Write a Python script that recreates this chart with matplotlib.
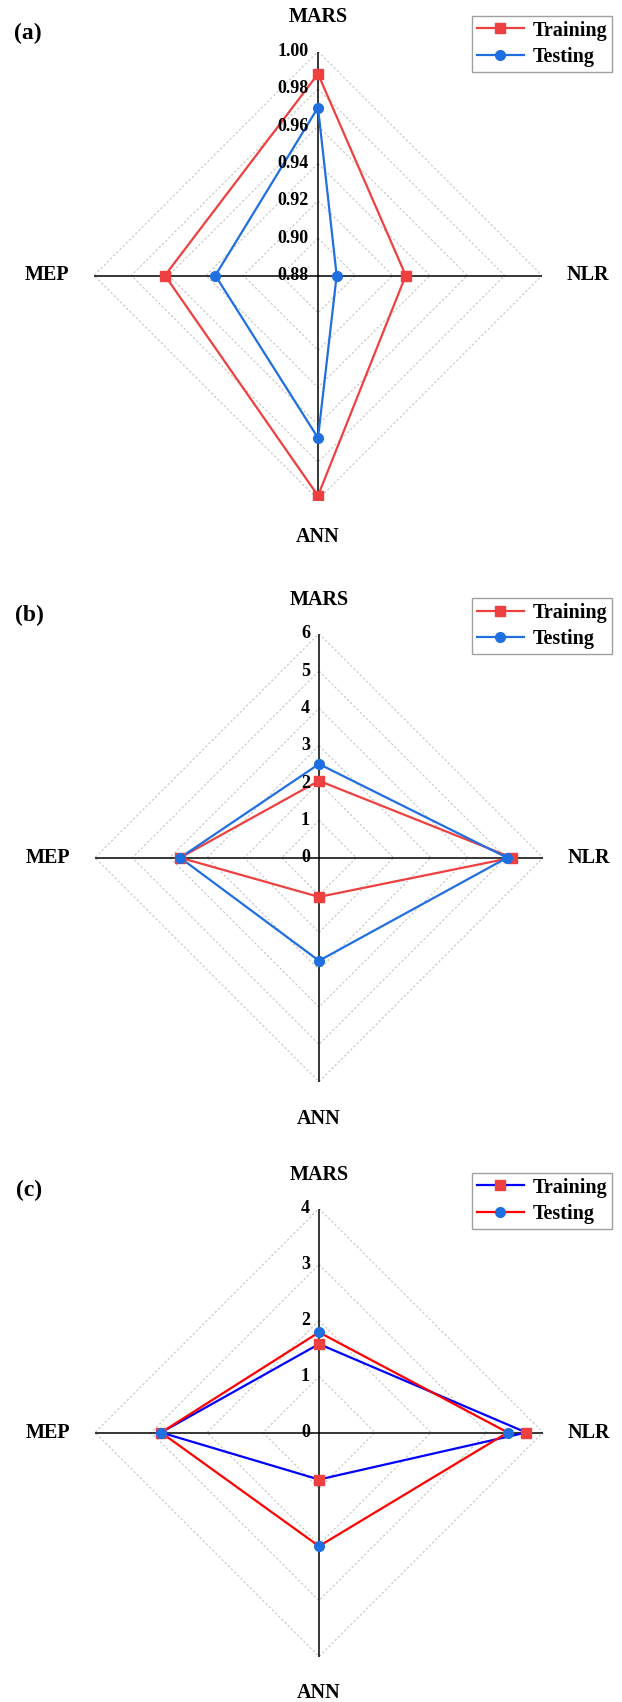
import numpy as np
import matplotlib
matplotlib.use('Agg')
import matplotlib.pyplot as plt
from matplotlib.lines import Line2D

plt.rcParams['font.family'] = ['Liberation Serif', 'DejaVu Serif']
plt.rcParams['font.weight'] = 'bold'

# spokes, clockwise from the top
categories = ['MARS', 'NLR', 'ANN', 'MEP']
angles_deg = [90, 0, 270, 180]

# (a) correlation values
ticks_a = [0.88, 0.90, 0.92, 0.94, 0.96, 0.98, 1.00]
train_a = [0.988, 0.927, 0.998, 0.962]
test_a = [0.970, 0.890, 0.967, 0.935]

# (b)
ticks_b = [0, 1, 2, 3, 4, 5, 6]
train_b = [2.06, 5.17, 1.05, 3.72]
test_b = [2.51, 5.04, 2.76, 3.72]

# (c)
ticks_c = [0, 1, 2, 3, 4]
train_c = [1.58, 3.70, 0.84, 2.82]
test_c = [1.79, 3.37, 2.03, 2.82]

W, H = 622, 1702
R = 224  # radius in pixels
RED = '#EF4040'
BLUE = '#1F6FE0'

fig = plt.figure(figsize=(W / 100, H / 100), dpi=100)


def radar_xy(vals, vmin, vmax):
    r = (np.array(vals) - vmin) / (vmax - vmin)
    th = np.radians(angles_deg)
    x = r * np.cos(th)
    y = r * np.sin(th)
    return np.append(x, x[0]), np.append(y, y[0])


def panel(cx, cy, ticks, fmt, train, test, tag, line_cols):
    ax = fig.add_axes([(cx - R) / W, (H - cy - R) / H, 2 * R / W, 2 * R / H])
    ax.set_xlim(-1, 1)
    ax.set_ylim(-1, 1)
    ax.axis('off')
    vmin, vmax = ticks[0], ticks[-1]
    th = np.radians(angles_deg)

    # diamond grid
    for t in ticks[1:]:
        gx, gy = radar_xy([t] * 4, vmin, vmax)
        ax.plot(gx, gy, color='#c4c4c4', lw=0.8, ls=(0, (2, 2)), zorder=1)
    # spokes
    for a in th:
        ax.plot([0, np.cos(a)], [0, np.sin(a)], color='black', lw=1.1, zorder=2)

    tx, ty = radar_xy(train, vmin, vmax)
    ax.plot(tx, ty, color=line_cols[0], lw=1.6, zorder=3)
    ax.plot(tx[:-1], ty[:-1], ls='none', marker='s', ms=6.5, color=RED, zorder=5)
    sx, sy = radar_xy(test, vmin, vmax)
    ax.plot(sx, sy, color=line_cols[1], lw=1.6, zorder=3)
    ax.plot(sx[:-1], sy[:-1], ls='none', marker='o', ms=7, color=BLUE, zorder=5)

    # radial tick labels on the upper spoke
    for t in ticks:
        r = (t - vmin) / (vmax - vmin)
        ax.text(-9 / R, r, fmt.format(t), ha='right', va='center',
                fontsize=13, fontweight='bold', zorder=4)

    # category labels
    offs = {'MARS': (0, 258), 'NLR': (270, 0), 'ANN': (0, -261), 'MEP': (-271, 0)}
    for c in categories:
        dx, dy = offs[c]
        ax.text(dx / R, dy / R, c, ha='center', va='center', fontsize=14.5, fontweight='bold')

    fig.text((cx - 290) / W, 1 - (cy - 242) / H, tag, ha='center', va='center',
             fontsize=17, fontweight='bold')

    handles = [
        Line2D([], [], color=line_cols[0], lw=1.6, marker='s', ms=6.5,
               markerfacecolor=RED, markeredgecolor=RED),
        Line2D([], [], color=line_cols[1], lw=1.6, marker='o', ms=7,
               markerfacecolor=BLUE, markeredgecolor=BLUE),
    ]
    leg = fig.legend(handles, ['Training', 'Testing'], loc='upper right',
                     bbox_to_anchor=(612 / W, 1 - (cy - 260) / H), borderaxespad=0,
                     fancybox=False, edgecolor='#a0a0a0', fontsize=14.5,
                     handlelength=2.35, handletextpad=0.4, borderpad=0.25,
                     labelspacing=0.3, framealpha=1)
    leg.get_frame().set_linewidth(1.0)


panel(318, 275.5, ticks_a, '{:.2f}', train_a, test_a, '(a)', (RED, BLUE))
panel(319, 857.7, ticks_b, '{:d}', train_b, test_b, '(b)', (RED, BLUE))
panel(319, 1432.5, ticks_c, '{:d}', train_c, test_c, '(c)', ('#0000FF', '#FF0000'))

fig.savefig('out.png', dpi=100)
